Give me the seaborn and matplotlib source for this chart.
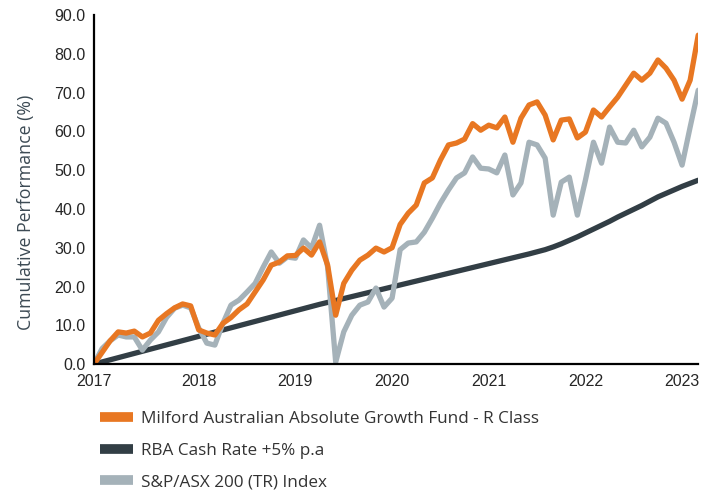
import matplotlib.pyplot as plt
import numpy as np
import pandas as pd
import seaborn as sns

# monthly cumulative performance (%), inception Dec 2016 -> Mar 2023
milford = [0, 3, 6, 8.3, 8, 8.5, 7, 8, 11.3, 13, 14.5, 15.5, 15, 8.8, 8, 7.5,
           10.5, 12, 14, 15.5, 18.6, 21.7, 25.5, 26.3, 27.9, 28, 29.9, 28.1, 31.5, 25.5,
           12.6, 20.8, 24.2, 26.8, 28.1, 29.9, 28.9, 30, 36, 38.9, 41, 46.7, 48, 52.6,
           56.5, 57, 58, 62, 60.3, 61.6, 60.9, 63.7, 57.2, 63.4, 66.8, 67.6, 64.2, 57.8,
           62.9, 63.2, 58.3, 59.8, 65.5, 63.7, 66.3, 68.8, 71.9, 75, 73.2, 75, 78.4, 76.3,
           73.2, 68.3, 73.2, 84.8]
rba = [0, 0.55, 1.1, 1.65, 2.2, 2.75, 3.3, 3.85, 4.4, 4.95, 5.5, 6.05, 6.6, 7.15,
       7.7, 8.25, 8.8, 9.35, 9.9, 10.45, 11.0, 11.55, 12.1, 12.65, 13.2, 13.75, 14.3,
       14.85, 15.4, 15.9, 16.4, 16.9, 17.4, 17.9, 18.4, 18.9, 19.4, 19.9, 20.4, 20.9,
       21.4, 21.9, 22.4, 22.9, 23.4, 23.9, 24.4, 24.9, 25.4, 25.9, 26.4, 26.9, 27.4,
       27.9, 28.4, 28.95, 29.5, 30.2, 31.0, 31.9, 32.8, 33.8, 34.8, 35.8, 36.8, 37.9,
       38.9, 39.9, 40.9, 42.0, 43.1, 44.0, 44.9, 45.8, 46.6, 47.4]
asx = [0, 4, 6, 7.5, 7, 7, 3.6, 6.2, 8.3, 12, 14.4, 15.2, 14.5, 9.3, 5.4, 4.9,
       10.5, 15.2, 16.5, 18.6, 20.8, 25, 28.9, 26, 27.6, 27.3, 32, 29.9, 35.8, 25,
       0.5, 8.3, 12.6, 15.2, 16, 19.6, 14.7, 17, 29.5, 31.2, 31.5, 34, 37.6, 41.5,
       44.9, 48, 49.3, 53.4, 50.5, 50.3, 49.3, 53.9, 43.6, 46.7, 57.2, 56.5, 53.1, 38.4,
       46.9, 48.2, 38.4, 47.4, 57.2, 51.8, 61.1, 57.2, 57, 60.3, 56, 58.5, 63.4, 62.1,
       57.2, 51.3, 61.1, 70.6]
names = ["Milford Australian Absolute Growth Fund - R Class",
         "RBA Cash Rate +5% p.a",
         "S&P/ASX 200 (TR) Index"]
palette = ["#E87722", "#323E45", "#A5B2B9"]
year_labels = ["2017", "2018", "2019", "2020", "2021", "2022", "2023"]
year_idx = [0, 13, 25, 37, 49, 61, 73]

month = np.arange(len(milford))
df = pd.DataFrame({names[0]: milford, names[1]: rba, names[2]: asx}, index=month)
long = df.reset_index(names="month").melt(id_vars="month", var_name="series", value_name="perf")

sns.set_style("white")
plt.rcParams["font.family"] = ["Liberation Sans", "DejaVu Sans"]

fig = plt.figure(figsize=(7.15, 4.92), dpi=100)
ax = fig.add_axes([0.1315, 0.26, 0.845, 0.7095])

sns.lineplot(data=long, x="month", y="perf", hue="series", hue_order=[names[1], names[2], names[0]],
             palette={names[0]: palette[0], names[1]: palette[1], names[2]: palette[2]},
             linewidth=3.8, ax=ax, legend=False)
for ln in ax.lines:
    ln.set_solid_capstyle("round")
    ln.set_solid_joinstyle("round")

ax.set_xlim(month[0], month[-1])
ax.set_ylim(0, 90)
ax.set_yticks(np.arange(0, 91, 10))
ax.set_yticklabels([f"{v:.1f}" for v in np.arange(0, 91, 10)], fontsize=11.5)
ax.set_xticks(year_idx + [month[-1]])
ax.set_xticklabels(year_labels + [""], fontsize=11.5)
ax.tick_params(axis="x", direction="out", length=5, width=1.5, color="black", pad=2)
ax.tick_params(axis="y", length=0, pad=6)
ax.set_xlabel("")
ax.set_ylabel("Cumulative Performance (%)", fontsize=12.8, color="#3C4A54",
              family=["Open Sans", "DejaVu Sans"])
ax.yaxis.set_label_coords(-0.097, 0.435)
sns.despine(ax=ax)
for s in ["left", "bottom"]:
    ax.spines[s].set_color("black")
    ax.spines[s].set_linewidth(1.6)

handles = [plt.Line2D([], [], color=c, linewidth=7, solid_capstyle="butt") for c in palette]
fig.legend(handles, names, loc="upper left", bbox_to_anchor=(0.14, 0.165), frameon=False,
           borderpad=0, borderaxespad=0, handlelength=1.95, handletextpad=0.43, labelspacing=0.92,
           prop={"family": ["Open Sans", "DejaVu Sans"], "size": 12.3}, labelcolor="#333333")

plt.savefig("out.png", dpi=100)
